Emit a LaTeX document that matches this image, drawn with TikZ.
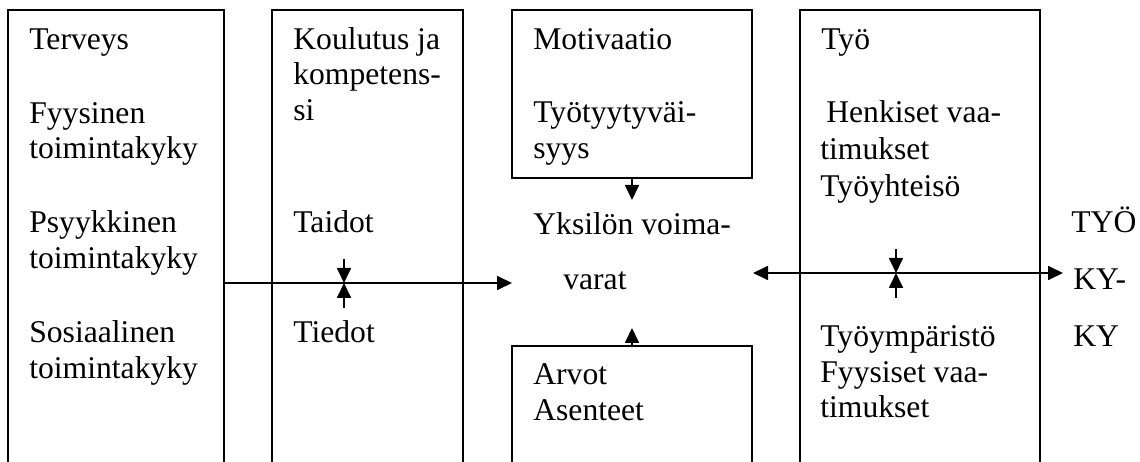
\documentclass[tikz,border=0pt]{standalone}
\usepackage{fontspec}
\setmainfont{Liberation Serif}
\usetikzlibrary{arrows.meta}
\begin{document}
\begin{tikzpicture}[x=0.02cm,y=-0.02cm,
  box/.style={draw,line width=1pt,rectangle,inner sep=0pt},
  txt/.style={anchor=base west,inner sep=0pt,font=\fontsize{18}{21}\selectfont},
  arr/.style={line width=1pt,-{Triangle[length=0.3cm,width=0.28cm]}},
  darr/.style={line width=1pt,{Triangle[length=0.3cm,width=0.28cm]}-{Triangle[length=0.3cm,width=0.28cm]}}]
\useasboundingbox (0,0) rectangle (1140,462);
\clip (0,0) rectangle (1140,462);
% boxes (open at the bottom edge of the picture)
\node[box,minimum width=4.32cm,minimum height=9.4cm] (terveys) at (116,245) {};
\node[box,minimum width=3.82cm,minimum height=9.4cm] (koulutus) at (367.5,245) {};
\node[box,minimum width=4.8cm,minimum height=3.36cm] (motiv) at (632,94) {};
\node[box,minimum width=4.8cm,minimum height=2.68cm] (arvot) at (632,413) {};
\node[box,minimum width=4.8cm,minimum height=9.4cm] (tyo) at (920,245) {};
% texts
\node[txt] (a1) at (29,50) {Terveys};
\node[txt] (a2) at (29,124) {Fyysinen};
\node[txt] (a3) at (29,159) {toimintakyky};
\node[txt] (a4) at (29,233) {Psyykkinen};
\node[txt] (a5) at (29,269) {toimintakyky};
\node[txt] (a6) at (29,343) {Sosiaalinen};
\node[txt] (a7) at (29,379) {toimintakyky};
\node[txt] (b1) at (293,50) {Koulutus ja};
\node[txt] (b2) at (293,85) {kompetens-};
\node[txt] (b3) at (293,121) {si};
\node[txt] (b4) at (293,233) {Taidot};
\node[txt] (b5) at (293,343) {Tiedot};
\node[txt] (c1) at (533,50) {Motivaatio};
\node[txt] (c2) at (533,123) {Työtyytyväi-};
\node[txt] (c3) at (533,159) {syys};
\node[txt] (y1) at (533,235) {Yksilön voima-};
\node[txt] (y2) at (563,290) {varat};
\node[txt] (d1) at (533,385) {Arvot};
\node[txt] (d2) at (533,421) {Asenteet};
\node[txt] (e1) at (821,50) {Työ};
\node[txt] (e2) at (826,123) {Henkiset vaa-};
\node[txt] (e3) at (820,160) {timukset};
\node[txt] (e4) at (820,197) {Työyhteisö};
\node[txt] (e5) at (820,347) {Työympäristö};
\node[txt] (e6) at (820,383) {Fyysiset vaa-};
\node[txt] (e7) at (820,418) {timukset};
\node[txt] (f1) at (1071,233) {TYÖ};
\node[txt] (f2) at (1073,290) {KY-};
\node[txt] (f3) at (1073,347) {KY};
% connectors
\coordinate (lin) at (512,283);
\coordinate (ktop) at (344,259);
\coordinate (kmid) at (344,283);
\coordinate (kbot) at (344,308);
\coordinate (mtip) at (632,200);
\coordinate (atip) at (632,328);
\coordinate (rl) at (753,273);
\coordinate (rr) at (1063,273);
\coordinate (ttop) at (896,249);
\coordinate (tmid) at (896,273);
\coordinate (tbot) at (896,298);
\draw[arr] (terveys.east |- lin) -- (lin);
\draw[arr] (ktop) -- (kmid);
\draw[arr] (kbot) -- (kmid);
\draw[arr] (motiv.south) -- (mtip);
\draw[arr] (arvot.north) -- (atip);
\draw[darr] (rl) -- (rr);
\draw[arr] (ttop) -- (tmid);
\draw[arr] (tbot) -- (tmid);
\end{tikzpicture}
\end{document}
